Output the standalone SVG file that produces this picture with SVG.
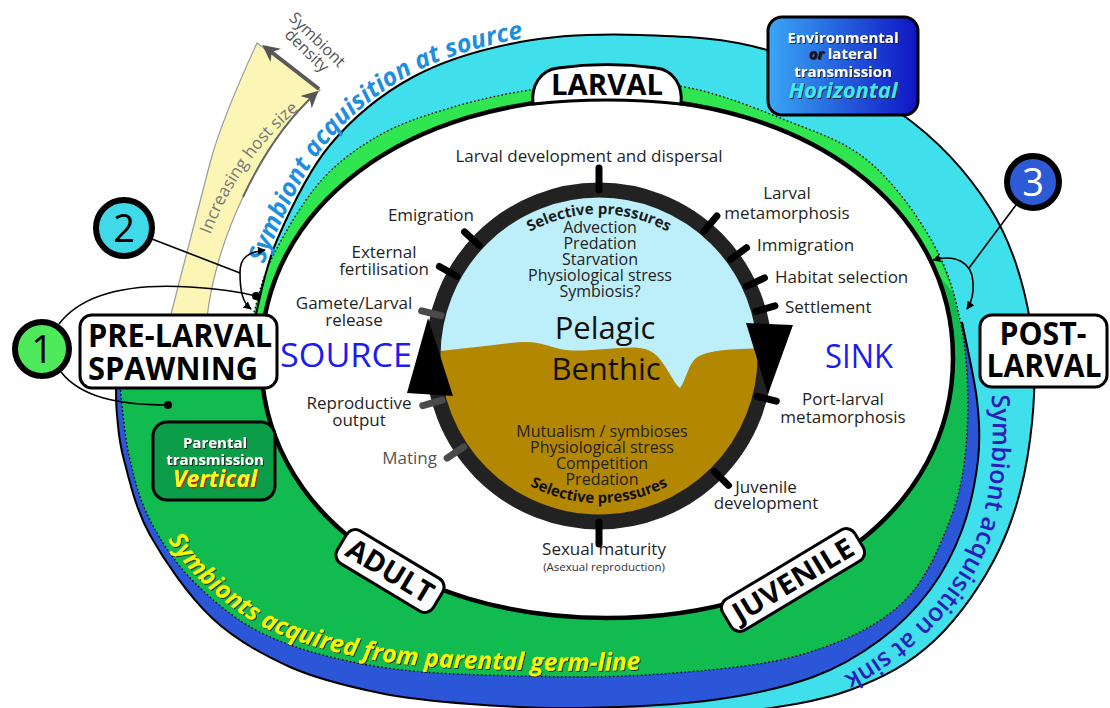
<svg xmlns="http://www.w3.org/2000/svg" width="1110" height="708" viewBox="0 0 1110 708">
<defs>
<style>
text { font-family: 'Open Sans','DejaVu Sans',sans-serif; }
.lbl { font-size:17px; fill:#1f1f1f; }
.c { text-anchor:middle; }
.e { text-anchor:end; }
.stage { font-weight:700; fill:#000; }
.sbox { fill:#fff; stroke:#000; stroke-width:3; }
.tick { stroke:#000; stroke-width:7; stroke-linecap:round; }
.tickg { stroke:#4a4a4a; stroke-width:7; stroke-linecap:round; }
.conn { fill:none; stroke:#000; stroke-width:1.6; }
.sel { font-size:15px; font-weight:700; }
.pl { font-size:16px; fill:#222; text-anchor:middle; }
.wb { font-weight:700; text-anchor:middle; }
</style>
<marker id="ah" viewBox="0 0 10 10" refX="9" refY="5" markerWidth="8" markerHeight="8" markerUnits="userSpaceOnUse" orient="auto-start-reverse"><path d="M0,0 L10,5 L0,10 z" fill="#000"/></marker>
<marker id="gah" viewBox="0 0 10 10" refX="8" refY="5" markerWidth="17" markerHeight="17" markerUnits="userSpaceOnUse" orient="auto"><path d="M0,0 L10,5 L0,10 L3,5 z" fill="#555"/></marker>
<linearGradient id="hg" x1="0" y1="0" x2="1" y2="0"><stop offset="0" stop-color="#3aa8f5"/><stop offset="1" stop-color="#0f14c4"/></linearGradient>
<clipPath id="inner"><circle cx="599" cy="356" r="159"/></clipPath>
<filter id="sh" x="-10%" y="-20%" width="120%" height="150%"><feDropShadow dx="1" dy="1" stdDeviation="0.4" flood-color="#1a1a1a" flood-opacity="0.9"/></filter>
<filter id="shr" x="-10%" y="-20%" width="120%" height="150%"><feDropShadow dx="1.2" dy="1.2" stdDeviation="0.3" flood-color="#d41010" flood-opacity="1"/></filter>
<path id="sas" d="M 262,270 C 266,258 270,248 274,239 C 286.5,210 304.5,170 327.5,142.5 C 350,115.5 379.5,91.5 411.5,74 C 443.5,57 481.5,46 519.5,39 C 556,33 590,32 625,32"/>
<path id="pgl" d="M 155,517 C 166,538 180,560 199,579 C 218,597 240,616 270.5,630.5 C 300.5,644 339,654.3 381,661 C 422.5,667.7 473.5,668.8 520,670 C 566.7,671.2 613.3,671.5 659.5,668 L 700,665"/>
<path id="sink" d="M 991,390 C 996,450 990,510 972,548 C 955,585 925,620 892,645 C 870,662 848,675 825,685 L 800,695"/>
<path id="ihs" d="M 205,250 C 222,195 258,140 306,104"/>
<path id="selTop" d="M 457,356 A 142,142 0 0 1 741,356"/>
<path id="selBot" d="M 452,356 A 147,147 0 0 0 746,356"/>
</defs>

<!-- yellow host-size wedge -->
<g id="hostsize">
<path d="M 257,43 C 240,80 220,125 210,163 C 200,200 185,260 170,318 L 207,318 C 210,290 220,245 243,197 C 258,165 280,125 320,90 Z" fill="#fbf6b5" stroke="#9a9a9a" stroke-width="1.2"/>
<path d="M 243,197 C 258,165 280,126 316,93" fill="none" stroke="#666" stroke-width="2" marker-end="url(#gah)"/>
<line x1="319" y1="89" x2="265" y2="47" stroke="#5a5a5a" stroke-width="4" marker-end="url(#gah)"/>
<text style="font-size:17px" fill="#777"><textPath href="#ihs" startOffset="52%" text-anchor="middle">Increasing host size</textPath></text>
<g transform="translate(317,40) rotate(44)"><text x="0" y="5" style="font-size:16px" fill="#555" class="c">Symbiont</text><text x="0" y="20" style="font-size:16px" fill="#555" class="c">density</text></g>
</g>

<!-- bands -->
<g id="bands">
<path d="M 255,318 C 258.7,305 264.5,268.8 277,240 C 289.5,211.2 307.3,172.2 330,145 C 352.7,117.8 381.3,94.2 413,77 C 444.7,59.8 482.2,49 520,42 C 557.8,35 598.8,33.7 640,35 C 681.2,36.3 723.7,37 767,50 C 810.3,63 862.8,86.7 900,113 C 937.2,139.3 968.3,173.5 990,208 C 1011.7,242.5 1023.3,281.3 1030,320 C 1036.7,358.7 1035,402 1030,440 C 1025,478 1015.8,514.7 1000,548 C 984.2,581.3 960,616.3 935,640 C 910,663.7 882.5,678 850,690 C 817.5,702 778.3,707.3 740,712 C 701.7,716.7 640,717 620,718 L 600,712 L 560,697 L 450,450 Z" fill="#3fdfeb"/>
<path d="M 962,322 C 964.5,335 974.3,377 977,400 C 979.7,423 980.5,438.3 978,460 C 975.5,481.7 970,508.3 962,530 C 954,551.7 943.7,571.7 930,590 C 916.3,608.3 899.5,625.5 880,640 C 860.5,654.5 840.8,667 813,677 C 785.2,687 751.8,694.8 713,700 C 674.2,705.2 620.5,707.3 580,708 C 539.5,708.7 503.3,706.5 470,704 C 436.7,701.5 410,699.2 380,693 C 350,686.8 318,679.5 290,667 C 262,654.5 235.3,640 212,618 C 188.7,596 164.7,561.3 150,535 C 135.3,508.7 129.5,480 124,460 C 118.5,440 118.3,427.3 117,415 C 115.7,402.7 116.2,390.8 116,386 L 150,350 L 400,350 L 955,325 Z" fill="#2b56d8"/>
<path d="M 253,316 C 256.2,306.3 260.8,280.3 272,258 C 283.2,235.7 302,202.5 320,182 C 338,161.5 358.3,147.3 380,135 C 401.7,122.7 425,115.5 450,108 C 475,100.5 503.3,94 530,90 C 556.7,86 583.3,84.3 610,84 C 636.7,83.7 661.7,82.3 690,88 C 718.3,93.7 750.5,106 780,118 C 809.5,130 841.5,139.2 867,160 C 892.5,180.8 917.2,214.7 933,243 C 948.8,271.3 956.3,298.3 962,330 C 967.7,361.7 969,401.3 967,433 C 965,464.7 961.2,491.3 950,520 C 938.8,548.7 925,582.5 900,605 C 875,627.5 840,643.5 800,655 C 760,666.5 706.7,670.5 660,674 C 613.3,677.5 566.7,677.2 520,676 C 473.3,674.8 422,673.7 380,667 C 338,660.3 298.8,650 268,636 C 237.2,622 214.7,602.3 195,583 C 175.3,563.7 161,541.3 150,520 C 139,498.7 134,477.3 129,455 C 124,432.7 121.5,397.5 120,386 L 150,345 Z" fill="#12bb4f"/>
<path d="M 253,316 C 256.2,306.3 260.8,280.3 272,258 C 283.2,235.7 302,202.5 320,182 C 338,161.5 358.3,147.3 380,135 C 401.7,122.7 425,115.5 450,108 C 475,100.5 503.3,94 530,90 C 556.7,86 583.3,84.3 610,84 C 636.7,83.7 661.7,82.3 690,88 C 718.3,93.7 750.5,106 780,118 C 809.5,130 841.5,139.2 867,160 C 892.5,180.8 917.2,214.7 933,243 L 954,294 L 928,262 L 600,250 Z" fill="#30e650"/>
<path d="M 255,318 C 258.7,305 264.5,268.8 277,240 C 289.5,211.2 307.3,172.2 330,145 C 352.7,117.8 381.3,94.2 413,77 C 444.7,59.8 482.2,49 520,42 C 557.8,35 598.8,33.7 640,35 C 681.2,36.3 723.7,37 767,50 C 810.3,63 862.8,86.7 900,113 C 937.2,139.3 968.3,173.5 990,208 C 1011.7,242.5 1023.3,281.3 1030,320 C 1036.7,358.7 1035,402 1030,440 C 1025,478 1015.8,514.7 1000,548 C 984.2,581.3 960,616.3 935,640 C 910,663.7 882.5,678 850,690 C 817.5,702 778.3,707.3 740,712" fill="none" stroke="#000" stroke-width="2"/>
<path d="M 962,322 C 964.5,335 974.3,377 977,400 C 979.7,423 980.5,438.3 978,460 C 975.5,481.7 970,508.3 962,530 C 954,551.7 943.7,571.7 930,590 C 916.3,608.3 899.5,625.5 880,640 C 860.5,654.5 840.8,667 813,677 C 785.2,687 751.8,694.8 713,700 C 674.2,705.2 620.5,707.3 580,708 C 539.5,708.7 503.3,706.5 470,704 C 436.7,701.5 410,699.2 380,693 C 350,686.8 318,679.5 290,667 C 262,654.5 235.3,640 212,618 C 188.7,596 164.7,561.3 150,535 C 135.3,508.7 129.5,480 124,460 C 118.5,440 118.3,427.3 117,415 C 115.7,402.7 116.2,390.8 116,386" fill="none" stroke="#000" stroke-width="2"/>
<path d="M 253,316 C 256.2,306.3 260.8,280.3 272,258 C 283.2,235.7 302,202.5 320,182 C 338,161.5 358.3,147.3 380,135 C 401.7,122.7 425,115.5 450,108 C 475,100.5 503.3,94 530,90 C 556.7,86 583.3,84.3 610,84 C 636.7,83.7 661.7,82.3 690,88 C 718.3,93.7 750.5,106 780,118 C 809.5,130 841.5,139.2 867,160 C 892.5,180.8 917.2,214.7 933,243 C 948.8,271.3 956.3,298.3 962,330 C 967.7,361.7 969,401.3 967,433 C 965,464.7 961.2,491.3 950,520 C 938.8,548.7 925,582.5 900,605 C 875,627.5 840,643.5 800,655 C 760,666.5 706.7,670.5 660,674 C 613.3,677.5 566.7,677.2 520,676 C 473.3,674.8 422,673.7 380,667 C 338,660.3 298.8,650 268,636 C 237.2,622 214.7,602.3 195,583 C 175.3,563.7 161,541.3 150,520 C 139,498.7 134,477.3 129,455 C 124,432.7 121.5,397.5 120,386" fill="none" stroke="#000" stroke-width="1.4" stroke-dasharray="1.5 2.5"/>
<path d="M 261,358 C 261,207.2 406.3,98 607,98 C 807.7,98 953,207.2 953,358 C 953,508.8 807.7,618 607,618 C 406.3,618 261,508.8 261,358 Z" fill="#fff" stroke="#000" stroke-width="4.5"/>
</g>

<!-- band texts -->
<g id="bandtexts">
<text style="font-size:25px;font-weight:700;font-style:italic" fill="#1e8fe0"><textPath href="#sas" startOffset="6">Symbiont acquisition at source</textPath></text>
<text style="font-size:24.5px;font-weight:700;font-style:italic" fill="#f7f700" filter="url(#sh)"><textPath href="#pgl" startOffset="26">Symbionts acquired from parental germ-line</textPath></text>
<text style="font-size:25px;font-weight:600" fill="#2b1db8"><textPath href="#sink" startOffset="5">Symbiont acquisition at sink</textPath></text>
</g>

<!-- central circle -->
<g id="core">
<circle cx="599" cy="356" r="160" fill="#bdeffb"/>
<path clip-path="url(#inner)" d="M 430,352 L 467,348 C 490,346 510,342 527,342 C 540,342 548,346 560,349 C 575,352 590,350 605,349 C 625,348 640,345 652,352 C 665,360 672,382 680,388 C 686,380 688,365 696,358 C 708,350 730,349 770,348 L 770,540 L 430,540 Z" fill="#b48700"/>
<circle cx="599" cy="356" r="166" fill="none" stroke="#222" stroke-width="15"/>
<text class="sel" fill="#1a1a1a"><textPath href="#selTop" startOffset="50%" text-anchor="middle">Selective pressures</textPath></text>
<text class="sel" fill="#111"><textPath href="#selBot" startOffset="50%" text-anchor="middle">Selective pressures</textPath></text>
<text x="600" y="233" class="pl">Advection</text>
<text x="600" y="249" class="pl">Predation</text>
<text x="600" y="265" class="pl">Starvation</text>
<text x="600" y="281" class="pl">Physiological stress</text>
<text x="600" y="297" class="pl">Symbiosis?</text>
<text x="605" y="339" style="font-size:31px" fill="#111" class="c">Pelagic</text>
<text x="606" y="380" style="font-size:31px" fill="#111" class="c">Benthic</text>
<text x="602" y="437" class="pl">Mutualism / symbioses</text>
<text x="602" y="453" class="pl">Physiological stress</text>
<text x="602" y="469" class="pl">Competition</text>
<text x="602" y="485" class="pl">Predation</text>
<polygon points="428,318 407,393 453,396" fill="#000"/>
<polygon points="746,323 793,325 768,394" fill="#000"/>
</g>

<!-- ticks -->
<g id="ticks">
<line class="tick" x1="599" y1="190" x2="599" y2="168"/>
<line class="tick" x1="479.2" y1="245.5" x2="464.5" y2="231.9"/>
<line class="tick" x1="456.9" y1="276.3" x2="439.4" y2="266.5"/>
<line class="tickg" x1="441.1" y1="315.7" x2="421.7" y2="310.8"/>
<line class="tickg" x1="442.1" y1="400.2" x2="422.8" y2="405.6"/>
<line class="tickg" x1="463.7" y1="446.9" x2="447.1" y2="458.1"/>
<line class="tick" x1="599" y1="522" x2="599" y2="544"/>
<line class="tick" x1="714.2" y1="471.2" x2="728.4" y2="485.4"/>
<line class="tick" x1="757" y1="396.3" x2="776.3" y2="401.2"/>
<line class="tick" x1="755.8" y1="311.3" x2="775" y2="305.9"/>
<line class="tick" x1="746.4" y1="286.4" x2="764.5" y2="277.9"/>
<line class="tick" x1="730.4" y1="259.5" x2="746.5" y2="247.7"/>
<line class="tick" x1="704" y1="231.3" x2="716.9" y2="216"/>
</g>

<!-- event labels -->
<g id="labels">
<text x="589" y="162" class="lbl c">Larval development and dispersal</text>
<text x="474" y="221" class="lbl e">Emigration</text>
<text x="384" y="258" class="lbl c">External</text>
<text x="384" y="275" class="lbl c">fertilisation</text>
<text x="354" y="309" class="lbl c">Gamete/Larval</text>
<text x="354" y="326" class="lbl c">release</text>
<text x="280" y="367" style="font-size:32px" fill="#1b1bf2" textLength="132" lengthAdjust="spacingAndGlyphs">SOURCE</text>
<text x="359" y="409" class="lbl c">Reproductive</text>
<text x="359" y="426" class="lbl c">output</text>
<text x="437" y="464" class="lbl e" style="fill:#555">Mating</text>
<text x="604" y="555" class="lbl c">Sexual maturity</text>
<text x="604" y="571" style="font-size:11.5px" fill="#333" class="c">(Asexual reproduction)</text>
<text x="787" y="199" class="lbl c">Larval</text>
<text x="787" y="219" class="lbl c">metamorphosis</text>
<text x="757" y="251" class="lbl">Immigration</text>
<text x="775" y="283" class="lbl">Habitat selection</text>
<text x="785" y="313" class="lbl">Settlement</text>
<text x="825" y="368" style="font-size:32px" fill="#1b1bf2" textLength="68" lengthAdjust="spacingAndGlyphs">SINK</text>
<text x="843" y="405" class="lbl c">Port-larval</text>
<text x="843" y="423" class="lbl c">metamorphosis</text>
<text x="766" y="493" class="lbl c">Juvenile</text>
<text x="766" y="509" class="lbl c">development</text>
</g>

<!-- stage labels -->
<g id="larval">
<path class="sbox" d="M 533,104 C 531,86 540,70 558,68 Q 607,61 656,68 C 674,70 683,86 681,104 Q 607,96 533,104 Z"/>
<text x="607" y="95" class="stage c" style="font-size:29px" textLength="112" lengthAdjust="spacingAndGlyphs">LARVAL</text>
</g>
<g id="adult" transform="translate(390,571) rotate(31)">
<rect class="sbox" x="-56" y="-19" width="112" height="38" rx="10"/>
<text x="0" y="10" class="stage c" style="font-size:29px" textLength="96" lengthAdjust="spacingAndGlyphs">ADULT</text>
</g>
<g id="juvenile" transform="translate(793,580) rotate(-31)">
<rect class="sbox" x="-77" y="-18" width="154" height="36" rx="10"/>
<text x="0" y="10" class="stage c" style="font-size:28px" textLength="136" lengthAdjust="spacingAndGlyphs">JUVENILE</text>
</g>
<g id="prelarval">
<rect class="sbox" x="80" y="315" width="197" height="73" rx="12"/>
<text x="88" y="347" class="stage" style="font-size:32px" textLength="184" lengthAdjust="spacingAndGlyphs">PRE-LARVAL</text>
<text x="88" y="380" class="stage" style="font-size:32px" textLength="170" lengthAdjust="spacingAndGlyphs">SPAWNING</text>
</g>
<g id="postlarval">
<rect class="sbox" x="980" y="315" width="127" height="72" rx="12"/>
<text x="1043" y="345" class="stage c" style="font-size:32px" textLength="87" lengthAdjust="spacingAndGlyphs">POST-</text>
<text x="1044" y="377" class="stage c" style="font-size:32px" textLength="115" lengthAdjust="spacingAndGlyphs">LARVAL</text>
</g>

<!-- transmission boxes -->
<g id="horizontal">
<rect x="768" y="17" width="150" height="98" rx="14" fill="url(#hg)" stroke="#000" stroke-width="3"/>
<text x="843" y="43" class="wb" style="font-size:15px" fill="#fff" filter="url(#sh)">Environmental</text>
<text x="843" y="59" class="wb" style="font-size:15px" fill="#fff" filter="url(#sh)"><tspan font-style="italic" fill="#111">or</tspan> lateral</text>
<text x="843" y="77" class="wb" style="font-size:15px" fill="#fff" filter="url(#sh)">transmission</text>
<text x="843" y="98" class="wb" style="font-size:22px;font-style:italic" fill="#40e8ee" filter="url(#sh)">Horizontal</text>
</g>
<g id="vertical">
<rect x="153" y="422" width="122" height="78" rx="14" fill="#0b9d47" stroke="#000" stroke-width="3"/>
<text x="215" y="448" class="wb" style="font-size:15px" fill="#fff" filter="url(#sh)">Parental</text>
<text x="215" y="465" class="wb" style="font-size:15px" fill="#fff" filter="url(#sh)">transmission</text>
<text x="215" y="487" class="wb" style="font-size:23px;font-style:italic" fill="#ffff1a" filter="url(#shr)">Vertical</text>
</g>

<!-- numbered nodes -->
<g id="n1"><circle cx="42" cy="349" r="27" fill="#4eea5c" stroke="#000" stroke-width="6"/><text x="42" y="363" style="font-size:38px" fill="#000" class="c">1</text></g>
<g id="n2"><circle cx="124" cy="228" r="28" fill="#3fd9e8" stroke="#000" stroke-width="6"/><text x="124" y="242" style="font-size:38px" fill="#000" class="c">2</text></g>
<g id="n3"><circle cx="1033" cy="182" r="26" fill="#2d5bd6" stroke="#000" stroke-width="6"/><text x="1033" y="196" style="font-size:38px" fill="#fff" class="c">3</text></g>

<!-- connectors -->
<g id="connectors">
<path class="conn" d="M 59,324 C 85,290 140,284 190,287 C 220,289 240,292 256,296"/>
<circle cx="256" cy="296" r="4" fill="#000"/>
<path class="conn" d="M 61,372 C 80,396 115,405 168,405"/>
<circle cx="168" cy="405" r="4" fill="#000"/>
<line class="conn" x1="152" y1="239" x2="240" y2="273"/>
<path class="conn" d="M 265,250 C 248,252 240,258 240,272 C 240,290 242,302 251,309" marker-start="url(#ah)" marker-end="url(#ah)"/>
<line class="conn" x1="1016" y1="205" x2="969" y2="268"/>
<path class="conn" d="M 933,260 C 955,254 972,262 973,282 C 974,295 971,303 967,309" marker-start="url(#ah)" marker-end="url(#ah)"/>
</g>
</svg>
